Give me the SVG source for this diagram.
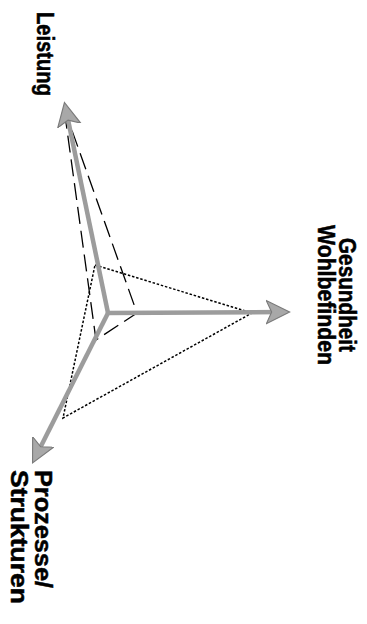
<svg xmlns="http://www.w3.org/2000/svg" width="367" height="624" viewBox="0 0 367 624">
<style>
.lbl{font-family:"Liberation Sans","DejaVu Sans",sans-serif;font-weight:bold;font-size:23px;fill:#000;stroke:#000;stroke-width:0.5}
.axis{stroke:#9c9c9c;stroke-width:4.5;fill:none;stroke-linecap:butt}
.dash{stroke:#000;stroke-width:1.3;fill:none;stroke-dasharray:17 7}
.dot{stroke:#000;stroke-width:1.5;fill:none;stroke-dasharray:2.5 1.8}
</style>
<defs>
<marker id="ah" markerWidth="6" markerHeight="6" refX="3.5" refY="3" orient="auto" markerUnits="strokeWidth">
<path d="M0,0.4 L5.2,3 L0,5.6 L1.2,3 Z" fill="#a8a8a8" stroke="#7a7a7a" stroke-width="0.25"/>
</marker>
</defs>
<rect width="367" height="624" fill="#fff"/>
<g id="connectors">
<polygon class="dash" points="64,108 137,313 96,340"/>
<polygon class="dot" points="95,265 252,313 63,418"/>
<line class="axis" x1="108" y1="313" x2="66" y2="110" marker-end="url(#ah)"/>
<line class="axis" x1="106" y1="313" x2="282" y2="312" marker-end="url(#ah)"/>
<line class="axis" x1="108" y1="313" x2="36" y2="456" marker-end="url(#ah)"/>
</g>
<g id="leistung"><text class="lbl" transform="translate(37,12) rotate(90)" textLength="84" lengthAdjust="spacingAndGlyphs">Leistung</text></g>
<g id="gesundheit"><text class="lbl" text-anchor="middle" transform="translate(339,295) rotate(90)" textLength="114" lengthAdjust="spacingAndGlyphs">Gesundheit</text><text class="lbl" text-anchor="middle" transform="translate(318,295) rotate(90)" textLength="140" lengthAdjust="spacingAndGlyphs">Wohlbefinden</text></g>
<g id="prozesse"><text class="lbl" transform="translate(35,470) rotate(90)" textLength="118" lengthAdjust="spacingAndGlyphs">Prozesse/</text><text class="lbl" transform="translate(11,470) rotate(90)" textLength="134" lengthAdjust="spacingAndGlyphs">Strukturen</text></g>
</svg>
